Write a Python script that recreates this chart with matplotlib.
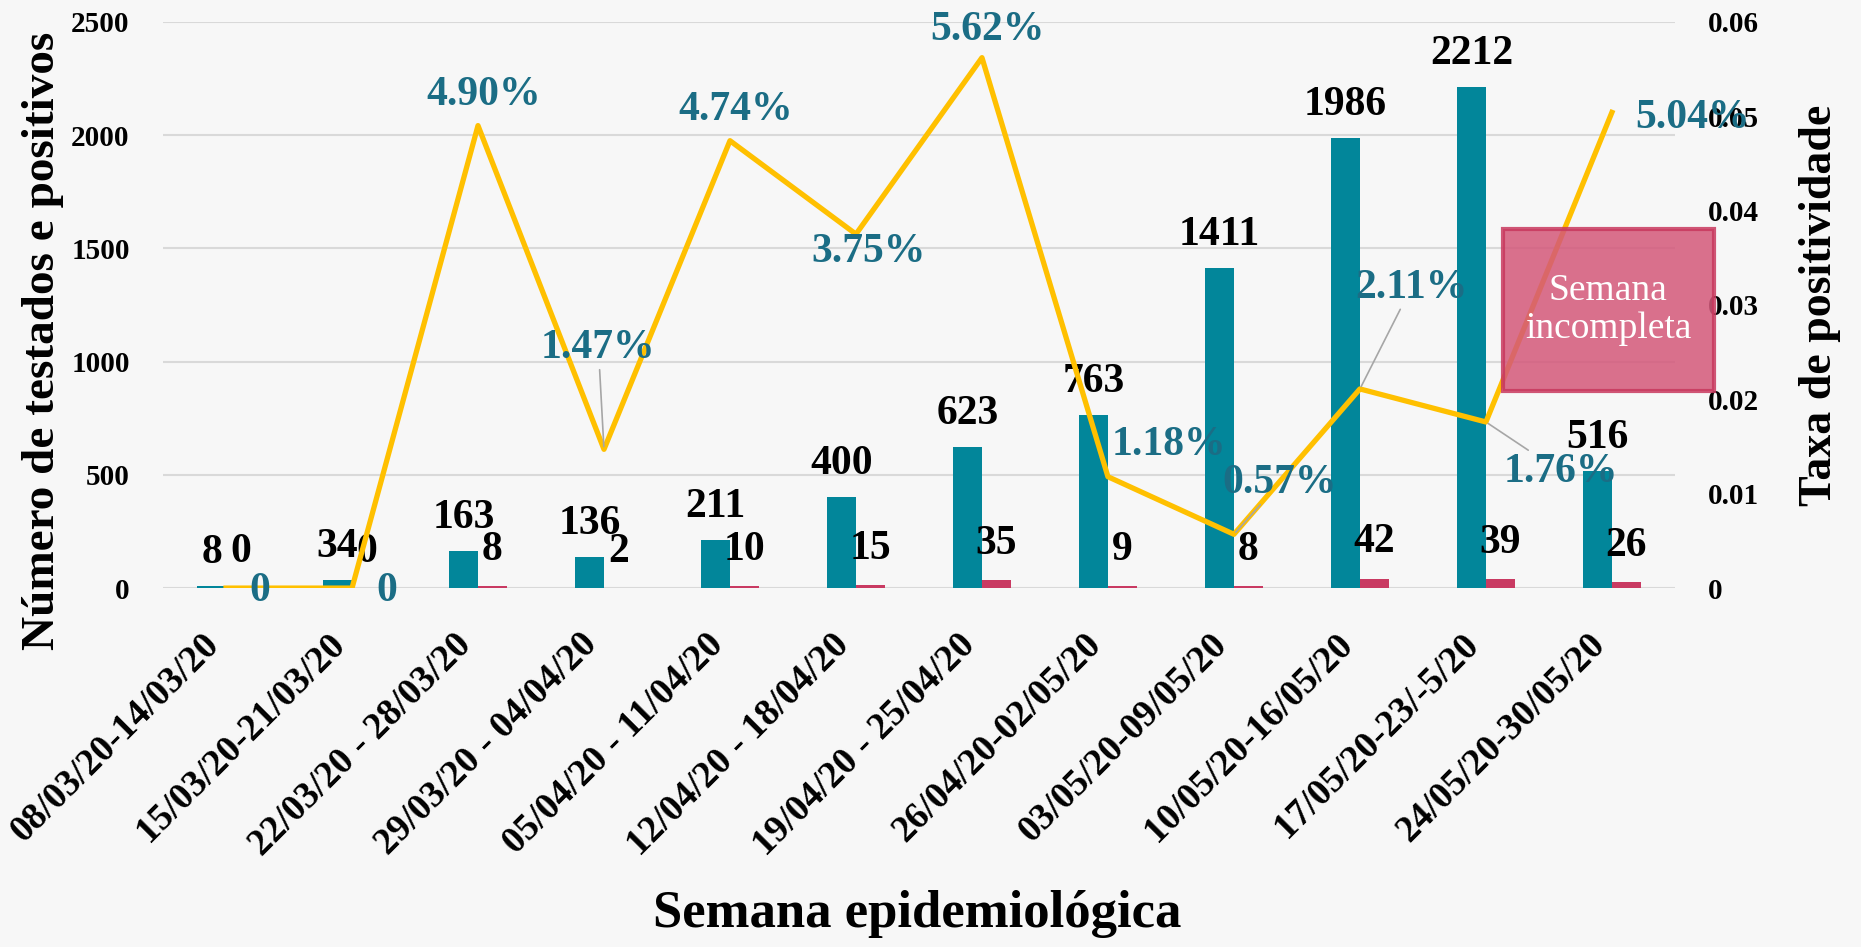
import numpy as np
import matplotlib.pyplot as plt
from matplotlib.patches import Rectangle

plt.rcParams['font.family'] = ['Liberation Serif', 'DejaVu Serif']
plt.rcParams['font.weight'] = 'bold'

semanas = ['08/03/20-14/03/20', '15/03/20-21/03/20', '22/03/20 - 28/03/20',
           '29/03/20 - 04/04/20', '05/04/20 - 11/04/20', '12/04/20 - 18/04/20',
           '19/04/20 - 25/04/20', '26/04/20-02/05/20', '03/05/20-09/05/20',
           '10/05/20-16/05/20', '17/05/20-23/-5/20', '24/05/20-30/05/20']
testados = [8, 34, 163, 136, 211, 400, 623, 763, 1411, 1986, 2212, 516]
positivos = [0, 0, 8, 2, 10, 15, 35, 9, 8, 42, 39, 26]
taxa = [0, 0, 0.0490, 0.0147, 0.0474, 0.0375, 0.0562, 0.0118, 0.0057, 0.0211, 0.0176, 0.0504]
taxa_txt = ['0', '0', '4.90%', '1.47%', '4.74%', '3.75%', '5.62%', '1.18%', '0.57%', '2.11%', '1.76%', '5.04%']
# label offsets (points) and whether a leader line is drawn
taxa_off = [(24, -2), (25, -2), (4, 22), (-4, 73), (4, 22), (9, -13), (4, 20),
            (44, 23), (33, 37), (37, 73), (54, -36), (58, -4)]
taxa_leader = [False, False, False, True, False, False, False, False, True, True, True, False]

teal = '#02869A'
rosa = '#C93A62'
amarelo = '#FFC000'
teal_txt = '#1B6D85'
bg = '#F7F7F7'

fig = plt.figure(figsize=(18.61, 9.47), dpi=100)
fig.patch.set_facecolor(bg)
ax = fig.add_axes([0.0876, 0.379, 0.8124, 0.598])
ax.set_facecolor(bg)

x = np.arange(len(semanas))
w = 0.23
ax.bar(x - w / 2, testados, w, color=teal, zorder=2)
ax.bar(x + w / 2, positivos, w, color=rosa, zorder=2)

ax.set_xlim(-0.5, len(semanas) - 0.5)
ax.set_ylim(0, 2500)
ax.set_yticks(range(0, 2501, 500))
ax.grid(axis='y', color='#D9D9D9', lw=1.5, zorder=0)
ax.set_axisbelow(True)
for s in ax.spines.values():
    s.set_visible(False)
ax.tick_params(axis='both', length=0)
ax.tick_params(axis='y', labelsize=21, pad=24)
ax.set_xticks(x)
ax.set_xticklabels(semanas, rotation=45, ha='right', fontsize=27, fontweight='bold')
ax.tick_params(axis='x', pad=28)

for xi, v in zip(x, testados):
    ax.annotate(str(v), (xi - w / 2, v), xytext=(0, 24), textcoords='offset points',
                ha='center', va='center', fontsize=30, fontweight='bold', color='black')
for xi, v in zip(x, positivos):
    ax.annotate(str(v), (xi + w / 2, v), xytext=(0, 26), textcoords='offset points',
                ha='center', va='center', fontsize=30, fontweight='bold', color='black')

ax2 = ax.twinx()
ax2.set_ylim(0, 0.06)
ax2.set_yticks([0, 0.01, 0.02, 0.03, 0.04, 0.05, 0.06])
ax2.set_yticklabels(['0', '0.01', '0.02', '0.03', '0.04', '0.05', '0.06'])
for s in ax2.spines.values():
    s.set_visible(False)
ax2.tick_params(axis='y', length=0, labelsize=21, pad=24)
ax2.plot(x, taxa, color=amarelo, lw=3.8, zorder=3)

for xi, v, t, off, ld in zip(x, taxa, taxa_txt, taxa_off, taxa_leader):
    ap = dict(arrowstyle='-', color='#A6A6A6', lw=1.2, shrinkA=0, shrinkB=2) if ld else None
    ax2.annotate(t, (xi, v), xytext=off, textcoords='offset points', ha='center', va='center',
                 fontsize=30, fontweight='bold', color=teal_txt, arrowprops=ap, zorder=4)

fig.text(0.023, 0.64, 'Número de testados e positivos', rotation=90, ha='center', va='center',
         fontsize=34, fontweight='bold')
fig.text(0.978, 0.678, 'Taxa de positividade', rotation=90, ha='center', va='center',
         fontsize=33, fontweight='bold')
fig.text(0.493, 0.035, 'Semana epidemiológica', ha='center', va='center',
         fontsize=38, fontweight='bold')

# caixa "Semana incompleta"
fig.add_artist(Rectangle((1503 / 1861, 1 - 391 / 947), 211 / 1861, 162 / 947,
                         transform=fig.transFigure, facecolor='#D4587A', alpha=0.85,
                         edgecolor='#C8385E', lw=3, zorder=5))
fig.text(1608 / 1861, 1 - 310 / 947, 'Semana\nincompleta', ha='center', va='center',
         fontsize=27, fontweight='normal', color='white', linespacing=1.15, zorder=6)

fig.savefig('out.png', dpi=100, facecolor=bg)
